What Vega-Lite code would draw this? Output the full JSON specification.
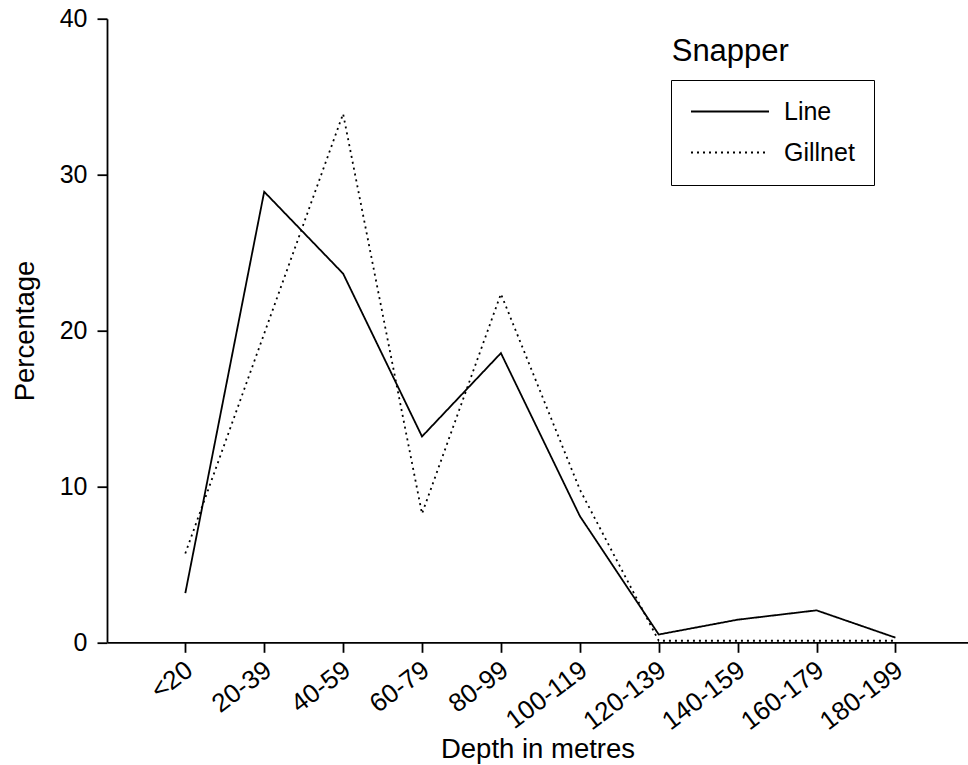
{
  "$schema": "https://vega.github.io/schema/vega-lite/v6.json",
  "width": 861,
  "height": 623.6,
  "autosize": {"type": "none"},
  "padding": {"left": 107, "top": 18.7, "right": 0, "bottom": 122.7},
  "background": "white",
  "config": {"font": "Liberation Sans", "view": {"stroke": null}},
  "title": {
    "text": "Snapper",
    "anchor": "start",
    "frame": "group",
    "orient": "top",
    "offset": 0,
    "dx": 564.7,
    "dy": 85,
    "fontSize": 31,
    "fontWeight": "normal",
    "font": "Liberation Sans",
    "color": "black",
    "baseline": "alphabetic"
  },
  "data": {
    "values": [
      {"depth": "<20", "gear": "Line", "pct": 3.15},
      {"depth": "20-39", "gear": "Line", "pct": 28.9},
      {"depth": "40-59", "gear": "Line", "pct": 23.65},
      {"depth": "60-79", "gear": "Line", "pct": 13.2},
      {"depth": "80-99", "gear": "Line", "pct": 18.55},
      {"depth": "100-119", "gear": "Line", "pct": 8.1},
      {"depth": "120-139", "gear": "Line", "pct": 0.5},
      {"depth": "140-159", "gear": "Line", "pct": 1.45},
      {"depth": "160-179", "gear": "Line", "pct": 2.05},
      {"depth": "180-199", "gear": "Line", "pct": 0.3},
      {"depth": "<20", "gear": "Gillnet", "pct": 5.7},
      {"depth": "20-39", "gear": "Gillnet", "pct": 19.8},
      {"depth": "40-59", "gear": "Gillnet", "pct": 33.9},
      {"depth": "60-79", "gear": "Gillnet", "pct": 8.25},
      {"depth": "80-99", "gear": "Gillnet", "pct": 22.35},
      {"depth": "100-119", "gear": "Gillnet", "pct": 9.8},
      {"depth": "120-139", "gear": "Gillnet", "pct": 0.1},
      {"depth": "140-159", "gear": "Gillnet", "pct": 0.1},
      {"depth": "160-179", "gear": "Gillnet", "pct": 0.1},
      {"depth": "180-199", "gear": "Gillnet", "pct": 0.1}
    ]
  },
  "mark": {"type": "line", "color": "black", "strokeWidth": 1.8},
  "encoding": {
    "x": {
      "field": "depth",
      "type": "ordinal",
      "sort": ["<20", "20-39", "40-59", "60-79", "80-99", "100-119", "120-139", "140-159", "160-179", "180-199"],
      "scale": {"type": "point", "padding": 0.956, "align": 0.519, "round": false},
      "axis": {
        "title": "Depth in metres",
        "titleFont": "Liberation Sans",
        "titleFontSize": 27.5,
        "titleFontWeight": "normal",
        "titleColor": "black",
        "titleX": 430.5,
        "titleY": 115,
        "titleAlign": "center",
        "titleBaseline": "alphabetic",
        "labelFont": "Liberation Sans",
        "labelFontSize": 26,
        "labelColor": "black",
        "labelAngle": -37,
        "labelAlign": "right",
        "labelBaseline": "top",
        "labelPadding": 4,
        "labelOffset": -4,
        "tickSize": 10,
        "tickColor": "black",
        "tickWidth": 1.8,
        "domainColor": "black",
        "domainWidth": 1.8,
        "grid": false
      }
    },
    "y": {
      "field": "pct",
      "type": "quantitative",
      "scale": {"domain": [0, 40], "nice": false},
      "axis": {
        "values": [0, 10, 20, 30, 40],
        "title": "Percentage",
        "titleFont": "Liberation Sans",
        "titleFontSize": 27.5,
        "titleFontWeight": "normal",
        "titleColor": "black",
        "titleX": -73.7,
        "titleY": 311.8,
        "titleAngle": 270,
        "titleAlign": "center",
        "titleBaseline": "alphabetic",
        "labelFont": "Liberation Sans",
        "labelFontSize": 25,
        "labelColor": "black",
        "labelPadding": 10,
        "tickSize": 10,
        "tickColor": "black",
        "tickWidth": 1.8,
        "domainColor": "black",
        "domainWidth": 1.8,
        "grid": false
      }
    },
    "strokeDash": {
      "field": "gear",
      "type": "nominal",
      "scale": {"domain": ["Line", "Gillnet"], "range": [[1, 0], [2, 4]]},
      "legend": {
        "orient": "none",
        "legendX": 564,
        "legendY": 61.3,
        "title": null,
        "strokeColor": "black",
        "fillColor": "white",
        "padding": 19,
        "symbolType": "stroke",
        "symbolSize": 6084,
        "symbolStrokeWidth": 2,
        "symbolStrokeColor": "black",
        "labelFont": "Liberation Sans",
        "labelFontSize": 25,
        "labelColor": "black",
        "labelOffset": 14,
        "clipHeight": 25,
        "rowPadding": 15
      }
    }
  }
}
